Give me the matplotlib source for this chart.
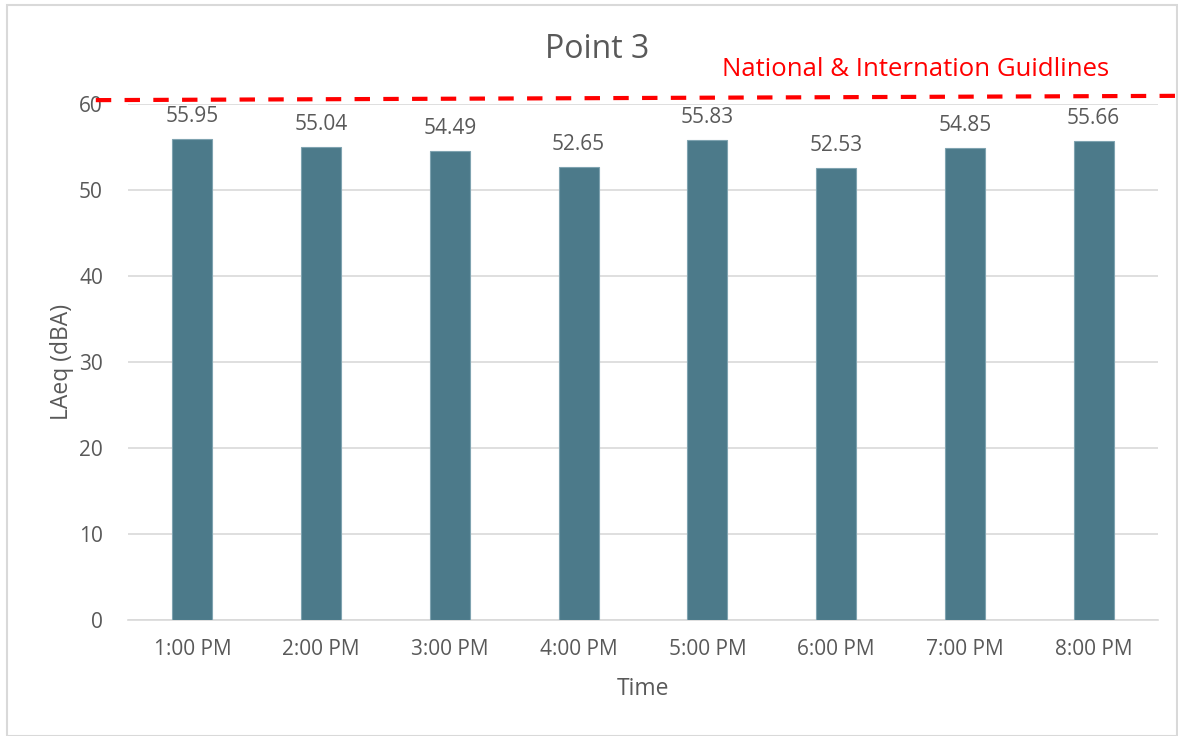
import matplotlib.pyplot as plt
from matplotlib.patches import Rectangle

plt.rcParams['font.family'] = ['Open Sans', 'DejaVu Sans']

times = ['1:00 PM', '2:00 PM', '3:00 PM', '4:00 PM', '5:00 PM', '6:00 PM', '7:00 PM', '8:00 PM']
laeq = [55.95, 55.04, 54.49, 52.65, 55.83, 52.53, 54.85, 55.66]
guide_label = 'National & Internation Guidlines'
guide_y = [60.45, 60.95]

grey = '#595959'

fig = plt.figure(figsize=(11.78, 7.36), dpi=100)
ax = fig.add_axes([128/1178, 1 - 620/736, 1030/1178, 516/736])

x = range(len(times))
bars = ax.bar(x, laeq, width=0.31, color='#4C7A8A', edgecolor='#7FA3B0', linewidth=0.8, zorder=3)
for xi, v in zip(x, laeq):
    ax.text(xi, v + 1.4, '%.2f' % v, ha='center', va='bottom', fontsize=15, color=grey)

ax.set_xlim(-0.5, len(times) - 0.5)
ax.set_ylim(0, 60)
ax.set_yticks(range(0, 61, 10))
ax.set_xticks(list(x))
ax.set_xticklabels(times)
ax.grid(axis='y', color='#D9D9D9', linewidth=1.2, zorder=0)
for s in ['top', 'right', 'left']:
    ax.spines[s].set_visible(False)
ax.spines['bottom'].set_color('#D9D9D9')
ax.spines['bottom'].set_linewidth(1.2)
ax.tick_params(length=0, labelsize=15, colors=grey, pad=14)
ax.tick_params(axis='y', pad=18)

ax.set_xlabel('Time', fontsize=16.5, color=grey, labelpad=12)
ax.set_ylabel('LAeq (dBA)', fontsize=16.5, color=grey, labelpad=4)
fig.text(597/1178, 1 - 50/736, 'Point 3', fontsize=23, color=grey, ha='center', va='center')

# guideline (hand-drawn line in the original, slightly tilted)
ax.plot([-0.75, 7.66], guide_y, color='red', linewidth=3, linestyle=(0, (3.7, 3.2)),
        clip_on=False, zorder=5)
fig.text(722/1178, 1 - 70/736, guide_label, color='red', fontsize=18.5, va='center', ha='left')

fig.add_artist(Rectangle((7/1178, 0), 1 - 7/1178 - 0.001, 1 - 5/736, transform=fig.transFigure,
                         fill=False, edgecolor='#D9D9D9', linewidth=1.5))

fig.savefig('out.png', dpi=100)
